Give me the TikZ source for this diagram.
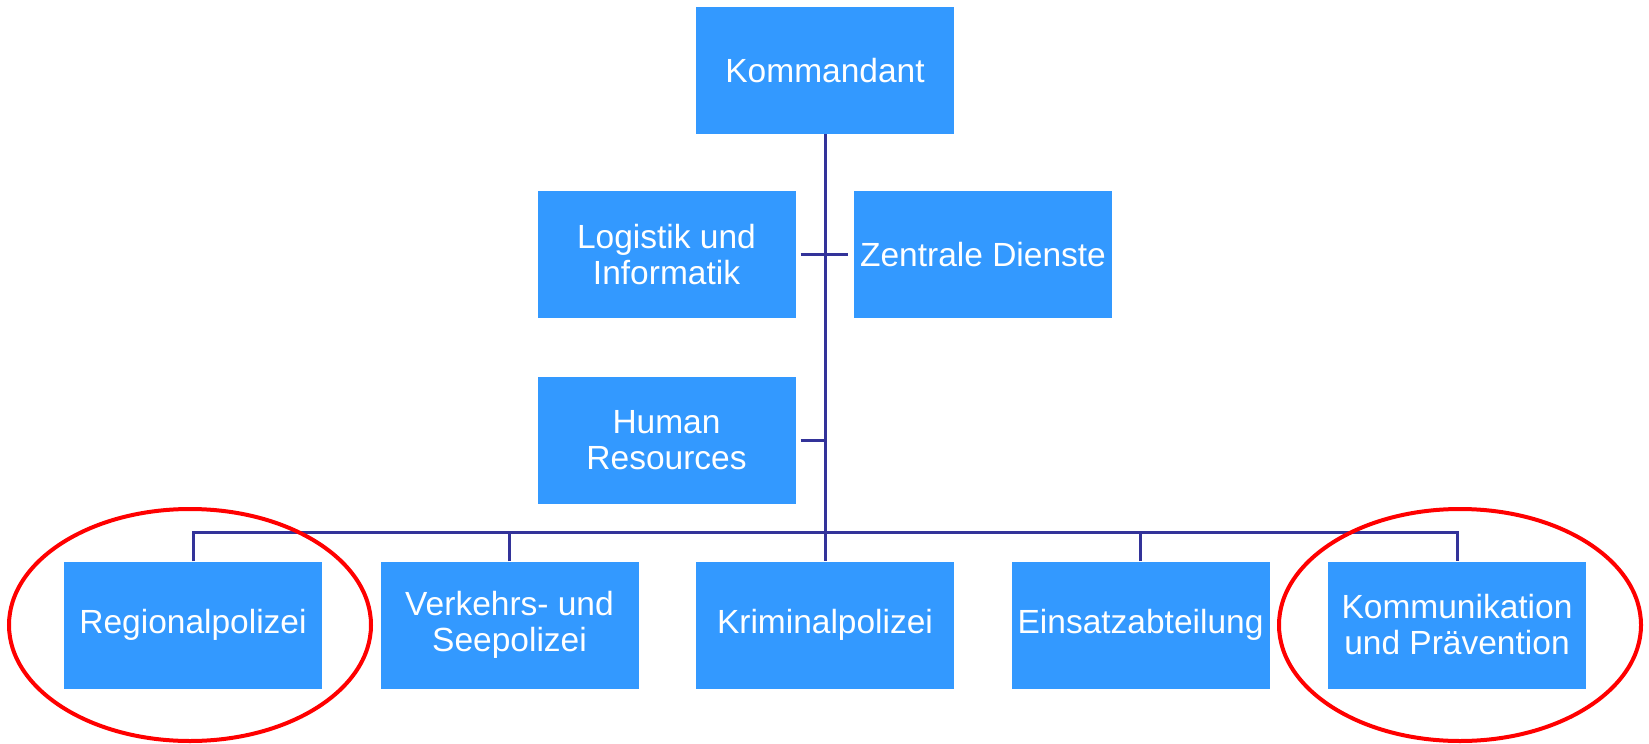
\documentclass[tikz,border=0pt]{standalone}
\usepackage{fontspec}
\setmainfont{Liberation Sans}
\definecolor{boxblue}{RGB}{51,153,255}
\definecolor{linkblue}{RGB}{51,51,153}
\begin{document}
\begin{tikzpicture}[x=1pt,y=-1pt,
  box/.style={fill=boxblue, minimum width=258pt, minimum height=127pt, text=white, align=center,
              font=\fontsize{33.5}{36}\selectfont, inner sep=0pt},
  link/.style={draw=linkblue, line width=3pt},
  redring/.style={draw=red, line width=4pt}]
\useasboundingbox[fill=white] (0,0) rectangle (1649,744);
\node[box] (k)  at (825,70.5)   {Kommandant};
\node[box] (li) at (666.5,254.5) {Logistik und\\Informatik};
\node[box] (zd) at (983,254.5)  {Zentrale Dienste};
\node[box] (hr) at (666.5,440)  {Human\\Resources};
\node[box] (rp) at (193,625)    {Regionalpolizei};
\node[box] (vs) at (509.5,625)  {Verkehrs- und\\Seepolizei};
\node[box] (kp) at (825,625)    {Kriminalpolizei};
\node[box] (ea) at (1140.5,625) {Einsatzabteilung};
\node[box] (kv) at (1457,625)   {Kommunikation\\und Prävention};
\draw[link] (k.south) -- (kp.north);
\draw[link] (rp.north) -- ++(0,-29) -| (kv.north);
\draw[link] (vs.north) -- ++(0,-29);
\draw[link] (ea.north) -- ++(0,-29);
\draw[link] ([xshift=5pt]li.east) -- ([xshift=-6pt]zd.west);
\draw[link] ([xshift=5pt]hr.east) -- (hr.east -| k.south);
\draw[redring] (190,625) ellipse [x radius=181, y radius=116];
\draw[redring] (1460,625) ellipse [x radius=181, y radius=116];
\end{tikzpicture}
\end{document}
